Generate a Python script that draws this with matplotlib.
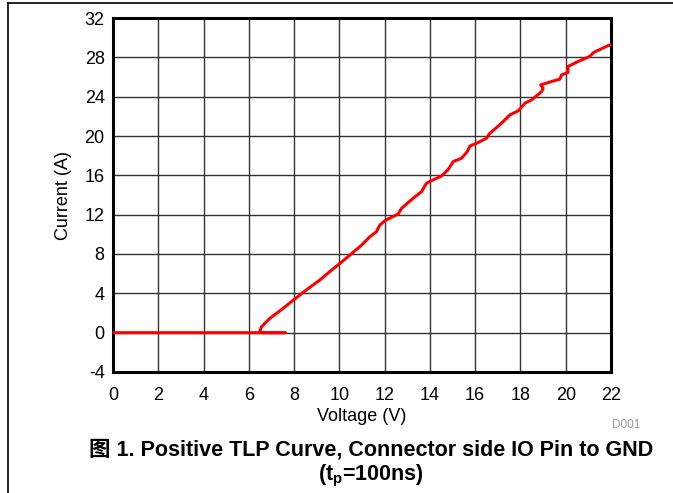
import matplotlib
matplotlib.use('Agg')
import matplotlib.pyplot as plt
from matplotlib.lines import Line2D

plt.rcParams['font.family'] = ['Liberation Sans', 'Noto Sans CJK SC', 'DejaVu Sans']
plt.rcParams['mathtext.fontset'] = 'custom'
plt.rcParams['mathtext.rm'] = 'Liberation Sans:bold'
plt.rcParams['mathtext.it'] = 'Liberation Sans:bold'
plt.rcParams['mathtext.bf'] = 'Liberation Sans:bold'
plt.rcParams['axes.unicode_minus'] = False

# TLP curve (voltage V, current A)
voltage = [0.0, 7.6, 6.55, 6.5, 6.56, 6.93, 7.52, 7.96, 8.63, 9.14, 9.66, 10.03,
           10.47, 10.98, 11.35, 11.64, 11.79, 12.06, 12.6, 12.75, 13.26, 13.63,
           13.85, 14.07, 14.51, 14.81, 15.03, 15.4, 15.65, 15.77, 16.06, 16.5,
           16.65, 17.09, 17.54, 17.9, 18.2, 18.5, 18.94, 19.0, 18.89, 19.37,
           19.74, 19.82, 20.1, 20.1, 20.55, 21.06, 21.24, 21.88, 22.0]
current = [0.0, 0.0, 0.0, 0.25, 0.6, 1.46, 2.48, 3.3, 4.5, 5.36, 6.37, 7.05,
           7.9, 8.9, 9.76, 10.27, 10.95, 11.46, 12.07, 12.65, 13.67, 14.34,
           15.2, 15.46, 15.93, 16.6, 17.4, 17.74, 18.41, 18.99, 19.26, 19.77,
           20.28, 21.15, 22.15, 22.56, 23.34, 23.68, 24.53, 24.87, 25.2, 25.54,
           25.78, 26.22, 26.46, 27.07, 27.58, 28.09, 28.5, 29.2, 29.3]

x_ticks = list(range(0, 23, 2))
y_ticks = list(range(-4, 33, 4))

fig = plt.figure(figsize=(6.73, 4.93), dpi=100)
ax = fig.add_axes([113 / 673, 1 - 372 / 493, 498 / 673, 354 / 493])

ax.plot(voltage, current, color='#ff0000', lw=2.2, solid_joinstyle='round', zorder=3)

ax.set_xlim(0, 22)
ax.set_ylim(-4, 32)
ax.set_xticks(x_ticks)
ax.set_yticks(y_ticks)
ax.grid(True, color='#333333', lw=1.0)
ax.tick_params(length=0, labelsize=13)
ax.tick_params(axis='y', pad=6)
ax.tick_params(axis='x', pad=10.5)
for s in ax.spines.values():
    s.set_linewidth(2.2)
    s.set_color('black')

ax.set_xlabel('Voltage (V)', fontsize=13, labelpad=3)
ax.set_ylabel('Current (A)', fontsize=13, labelpad=9)

fig.text(640 / 673, 1 - 425 / 493, 'D001', fontsize=8.5, color='#999999',
         ha='right', va='center')
fig.text(371 / 673, 1 - 450 / 493,
         '图 1. Positive TLP Curve, Connector side IO Pin to GND',
         fontsize=15.5, fontweight='bold', ha='center', va='center')
fig.text(371 / 673, 1 - 476 / 493, r'(t$_\mathrm{p}$=100ns)',
         fontsize=15.5, fontweight='bold', ha='center', va='center')

# outer frame (left and top edges only)
fig.add_artist(Line2D([8 / 673, 8 / 673], [0, 1 - 3 / 493], color='black', lw=1.2,
                      transform=fig.transFigure))
fig.add_artist(Line2D([8 / 673, 1], [1 - 3 / 493, 1 - 3 / 493], color='black', lw=1.2,
                      transform=fig.transFigure))

fig.savefig('out.png', dpi=100)
